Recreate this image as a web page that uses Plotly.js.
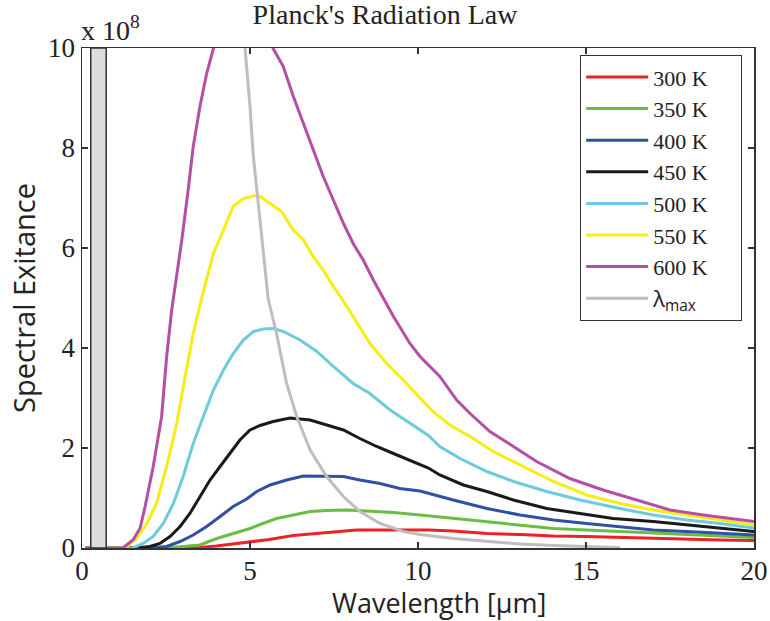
<!DOCTYPE html>
<html>
<head>
<meta charset="utf-8">
<script src="https://cdn.plot.ly/plotly-3.0.1.min.js"></script>
<style>
  html, body { margin: 0; padding: 0; background: #fff; }
  #chart { width: 770px; height: 621px; }
</style>
</head>
<body>
<div id="chart"></div>
<script>
// Spectral exitance (units of 1e8) against wavelength in micrometres.
const x300 = [0.1, 3.0, 3.5, 4.0, 4.5, 5.0, 5.57, 6.29, 7.28, 8.17, 9.27, 10.31, 11.05, 12.05, 13.04, 14.03, 15.02, 16.01, 17.0, 18.0, 18.99, 20];
const y300 = [0, 0, 0.01, 0.04, 0.08, 0.11, 0.17, 0.25, 0.31, 0.36, 0.36, 0.36, 0.34, 0.29, 0.27, 0.24, 0.23, 0.21, 0.19, 0.17, 0.16, 0.15];

const x350 = [0.1, 2.5, 3.01, 3.51, 4.01, 4.5, 5.0, 5.3, 5.79, 6.29, 6.79, 7.28, 7.88, 8.47, 9.27, 10.06, 11.05, 12.05, 13.04, 14.03, 15.02, 16.01, 17.0, 18.0, 18.99, 20];
const y350 = [0, 0, 0.03, 0.06, 0.19, 0.29, 0.39, 0.47, 0.59, 0.66, 0.73, 0.75, 0.76, 0.74, 0.71, 0.66, 0.59, 0.53, 0.46, 0.39, 0.36, 0.33, 0.29, 0.26, 0.24, 0.21];

const x400 = [0.1, 2.0, 2.52, 2.92, 3.31, 3.71, 4.11, 4.5, 4.9, 5.2, 5.6, 6.09, 6.59, 7.28, 7.78, 8.27, 8.87, 9.46, 10.06, 11.05, 12.05, 13.04, 14.03, 15.02, 16.01, 17.0, 18.0, 18.99, 20];
const y400 = [0, 0, 0.03, 0.13, 0.26, 0.43, 0.63, 0.83, 0.98, 1.13, 1.26, 1.36, 1.44, 1.44, 1.43, 1.36, 1.29, 1.19, 1.14, 0.96, 0.79, 0.66, 0.56, 0.49, 0.43, 0.36, 0.33, 0.29, 0.26];

const x450 = [0.1, 1.6, 2.02, 2.32, 2.62, 2.92, 3.21, 3.51, 3.81, 4.11, 4.4, 4.7, 5.0, 5.3, 5.69, 6.19, 6.79, 7.28, 7.78, 8.27, 8.77, 9.27, 9.76, 10.31, 10.65, 11.35, 12.05, 12.84, 13.83, 14.82, 15.81, 17.0, 18.0, 18.99, 20];
const y450 = [0, 0, 0.03, 0.09, 0.23, 0.43, 0.69, 1.03, 1.36, 1.63, 1.89, 2.16, 2.36, 2.45, 2.53, 2.60, 2.56, 2.46, 2.36, 2.19, 2.03, 1.89, 1.76, 1.60, 1.46, 1.26, 1.13, 0.96, 0.79, 0.69, 0.59, 0.53, 0.46, 0.39, 0.33];

const x500 = [0.1, 1.5, 1.82, 2.12, 2.42, 2.72, 3.01, 3.31, 3.61, 3.91, 4.21, 4.5, 4.8, 5.1, 5.4, 5.69, 5.99, 6.49, 6.99, 7.48, 8.07, 8.57, 9.17, 9.76, 10.31, 10.65, 11.25, 12.05, 12.84, 13.83, 14.82, 16.01, 17.0, 18.0, 18.99, 20];
const y500 = [0, 0, 0.09, 0.23, 0.49, 0.89, 1.43, 2.09, 2.63, 3.16, 3.56, 3.89, 4.16, 4.33, 4.38, 4.39, 4.33, 4.16, 3.93, 3.63, 3.29, 3.09, 2.76, 2.49, 2.25, 2.03, 1.79, 1.53, 1.33, 1.13, 0.96, 0.79, 0.66, 0.56, 0.49, 0.40];

const x550 = [0.1, 1.2, 1.34, 1.63, 1.93, 2.22, 2.52, 2.82, 3.07, 3.31, 3.56, 3.91, 4.21, 4.5, 4.8, 5.15, 5.3, 5.6, 5.94, 6.29, 6.59, 6.88, 7.18, 7.48, 7.73, 8.07, 8.57, 9.07, 9.56, 10.06, 10.46, 10.95, 11.55, 12.24, 13.04, 14.03, 15.02, 16.01, 17.0, 18.0, 18.99, 20];
const y550 = [0, 0, 0.03, 0.19, 0.49, 0.89, 1.63, 2.49, 3.43, 4.29, 4.99, 5.89, 6.36, 6.83, 6.99, 7.05, 7.03, 6.89, 6.73, 6.36, 6.16, 5.83, 5.56, 5.23, 4.99, 4.63, 4.09, 3.69, 3.36, 3.0, 2.72, 2.46, 2.23, 1.93, 1.66, 1.33, 1.06, 0.89, 0.76, 0.66, 0.56, 0.46];

const x600 = [0.1, 1.22, 1.53, 1.73, 1.875, 2.12, 2.37, 2.52, 2.67, 2.97, 3.16, 3.31, 3.51, 3.71, 3.91, 4.2, 4.5, 4.8, 5.1, 5.4, 5.69, 5.99, 6.29, 6.59, 6.88, 7.18, 7.48, 7.78, 8.07, 8.37, 8.67, 8.97, 9.27, 9.76, 10.06, 10.65, 11.15, 11.55, 12.14, 12.84, 13.53, 14.52, 15.51, 16.51, 17.5, 18.49, 20];
const y600 = [0, 0, 0.17, 0.40, 0.82, 1.63, 2.63, 3.83, 4.76, 6.16, 7.16, 8.03, 8.83, 9.49, 9.99, 10.5, 10.8, 10.9, 10.8, 10.5, 9.99, 9.63, 9.03, 8.49, 7.96, 7.43, 6.96, 6.49, 6.09, 5.76, 5.36, 4.99, 4.63, 4.09, 3.83, 3.43, 2.96, 2.69, 2.33, 2.03, 1.73, 1.39, 1.16, 0.96, 0.76, 0.66, 0.53];

// Locus of the peak values (Wien displacement)
const xPeak = [4.8, 4.85, 5.0, 5.1, 5.25, 5.4, 5.54, 5.79, 6.09, 6.39, 6.79, 7.28, 7.78, 8.27, 8.87, 9.56, 10.06, 11.05, 12.05, 13.04, 14.03, 15.02, 16.01];
const yPeak = [10.4, 10.0, 8.83, 7.83, 6.83, 5.89, 4.99, 4.29, 3.29, 2.63, 1.96, 1.43, 1.03, 0.73, 0.49, 0.33, 0.27, 0.19, 0.13, 0.08, 0.05, 0.03, 0.01];

const seriesNames = ['300 K', '350 K', '400 K', '450 K', '500 K', '550 K', '600 K'];
const seriesX = [x300, x350, x400, x450, x500, x550, x600];
const seriesY = [y300, y350, y400, y450, y500, y550, y600];
const seriesColors = ['#ec2227', '#69bd45', '#2f50a3', '#1a1a1a', '#6dcbdc', '#f7ec13', '#b54ea5'];
const peakColor = '#bdbec0';

const xTicks = [0, 5, 10, 15, 20];
const yTicks = [0, 2, 4, 6, 8, 10];

const serif = 'Liberation Serif, Times New Roman, serif';
const sans = 'Open Sans, Noto Sans, sans-serif';
// trailing padding keeps the legend box wide enough
const legendPad = '\u00a0\u00a0\u00a0\u00a0\u00a0';

const traces = seriesNames.map((name, i) => ({
  type: 'scatter',
  mode: 'lines',
  name: name + legendPad,
  x: seriesX[i],
  y: seriesY[i],
  line: { color: seriesColors[i], width: 3 }
}));
traces.push({
  type: 'scatter',
  mode: 'lines',
  name: '<span style="font-family:Open Sans">λ<sub>max</sub></span>',
  x: xPeak,
  y: yPeak,
  line: { color: peakColor, width: 3 }
});

const axisCommon = {
  showgrid: false,
  zeroline: false,
  showline: true,
  linecolor: '#333',
  linewidth: 1.5,
  mirror: 'ticks',
  ticks: 'inside',
  ticklen: 6,
  tickwidth: 1.2,
  tickcolor: '#333',
  tickfont: { family: serif, size: 27, color: '#222' }
};

const layout = {
  width: 770,
  height: 621,
  margin: { l: 82, r: 16, t: 48, b: 73 },
  paper_bgcolor: '#fff',
  plot_bgcolor: '#fff',
  showlegend: true,
  title: {
    text: "Planck's Radiation Law",
    font: { family: serif, size: 28, color: '#222' },
    xref: 'container', x: 0.5, xanchor: 'center',
    yref: 'container', y: 1 - 14 / 621, yanchor: 'middle'
  },
  xaxis: Object.assign({}, axisCommon, {
    range: [0, 20],
    tickvals: xTicks,
    ticktext: xTicks.map(String),
    ticklabelstandoff: -2
  }),
  yaxis: Object.assign({}, axisCommon, {
    range: [0, 10],
    tickvals: yTicks,
    ticktext: yTicks.map(String),
    title: { text: 'Spectral Exitance', font: { family: sans, size: 29, color: '#222' }, standoff: 4 }
  }),
  legend: {
    x: (580 - 82) / 672, y: (548 - 55) / 500,
    xanchor: 'left', yanchor: 'top',
    bgcolor: '#fff',
    bordercolor: '#333',
    borderwidth: 1.2,
    font: { family: serif, size: 22, color: '#222' },
    itemwidth: 62,
    tracegroupgap: 0
  },
  shapes: [{
    type: 'rect', xref: 'x', yref: 'y',
    x0: 0.26, x1: 0.72, y0: 0, y1: 10,
    fillcolor: '#dcdde0',
    line: { color: '#333', width: 1.5 },
    layer: 'above'
  }],
  annotations: [{
    xref: 'paper', yref: 'paper', x: 0, y: 1,
    xanchor: 'left', yanchor: 'bottom', yshift: 0, xshift: -3,
    showarrow: false,
    text: 'x 10<sup>8</sup>',
    font: { family: serif, size: 28, color: '#222' }
  }, {
    // x-axis title
    xref: 'paper', yref: 'paper', x: (439 - 82) / 672, y: 0,
    xanchor: 'center', yanchor: 'top', yshift: -35, borderpad: 0,
    showarrow: false,
    text: 'Wavelength [μm]',
    font: { family: sans, size: 27, color: '#222' }
  }]
};

Plotly.newPlot('chart', traces, layout, { displayModeBar: false, staticPlot: true });
</script>
</body>
</html>
